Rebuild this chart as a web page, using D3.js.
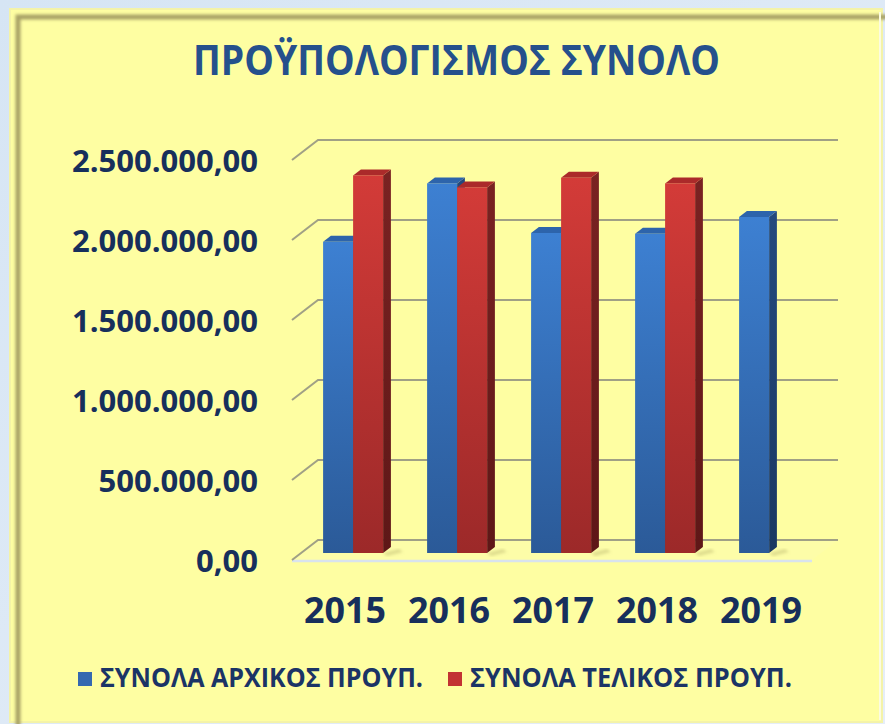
<!DOCTYPE html>
<html>
<head>
<meta charset="utf-8">
<script src="https://cdn.jsdelivr.net/npm/d3@7"></script>
<style>
  html, body { margin: 0; padding: 0; background: #dce8f5; }
  svg { display: block; }
</style>
</head>
<body>
<div id="chart"></div>
<script>
  // chart data
  const years = ["2015", "2016", "2017", "2018", "2019"];
  const seriesNames = ["ΣΥΝΟΛΑ ΑΡΧΙΚΟΣ ΠΡΟΥΠ.", "ΣΥΝΟΛΑ ΤΕΛΙΚΟΣ ΠΡΟΥΠ."];
  const initialBudget = [1945000, 2310000, 2000000, 1995000, 2100000];
  const finalBudget = [2360000, 2285000, 2345000, 2310000, null];
  const yTicks = [0, 500000, 1000000, 1500000, 2000000, 2500000];
  const title = "ΠΡΟΫΠΟΛΟΓΙΣΜΟΣ ΣΥΝΟΛΟ";

  const W = 885, H = 724;
  const font = "'Open Sans', 'Noto Sans', sans-serif";

  // back wall of the 3d plot, and the depth vector
  const wall = {left: 318, right: 838, bottom: 540, top: 140};
  const depth = {dx: -26, dy: 20};
  // bars sit between these depth fractions
  const barFront = 0.65, barBack = 0.35;

  const locale = d3.formatLocale({decimal: ",", thousands: ".", grouping: [3], currency: ["", "€"]});
  const fmt = locale.format(",.2f");

  const svg = d3.select("#chart").append("svg")
    .attr("width", W)
    .attr("height", H);

  const defs = svg.append("defs");

  const bg = defs.append("linearGradient").attr("id", "bg")
    .attr("x1", 0).attr("y1", 0).attr("x2", 1).attr("y2", 1);
  bg.append("stop").attr("offset", "0%").attr("stop-color", "#d6e5f4");
  bg.append("stop").attr("offset", "100%").attr("stop-color", "#e6eef8");

  defs.append("filter").attr("id", "blur2")
    .append("feGaussianBlur").attr("stdDeviation", 1.6);

  function vGrad(id, top, bottom) {
    const g = defs.append("linearGradient").attr("id", id)
      .attr("x1", 0).attr("y1", 0).attr("x2", 0).attr("y2", 1);
    g.append("stop").attr("offset", "0%").attr("stop-color", top);
    g.append("stop").attr("offset", "100%").attr("stop-color", bottom);
  }
  vGrad("blueFront", "#3d80d2", "#2b5a98");
  vGrad("blueSide", "#24497e", "#1b3862");
  vGrad("redFront", "#d33b38", "#9c2929");
  vGrad("redSide", "#7a2222", "#5e1717");

  // page background + yellow panel
  svg.append("rect").attr("width", W).attr("height", H).attr("fill", "url(#bg)");
  svg.append("rect")
    .attr("x", 10).attr("y", 9).attr("width", 872).attr("height", 713)
    .attr("fill", "#fefea2")
    .attr("stroke", "#f4f3a8").attr("stroke-width", 2);
  svg.append("rect")
    .attr("x", 18).attr("y", 17).attr("width", 880).attr("height", 720)
    .attr("fill", "none")
    .attr("stroke", "#a8a266").attr("stroke-width", 5)
    .attr("filter", "url(#blur2)");
  // light right edge
  svg.append("line")
    .attr("x1", 880).attr("x2", 880).attr("y1", 12).attr("y2", 720)
    .attr("stroke", "#fbfbe0").attr("stroke-width", 2);

  // scales
  const x = d3.scaleBand().domain(years).range([wall.left, wall.right]);
  const y = d3.scaleLinear().domain([0, 2500000]).range([wall.bottom, wall.top]);
  const barW = 30;

  // floor
  svg.append("path")
    .attr("d", `M${wall.left},${wall.bottom} L${wall.right},${wall.bottom} L${wall.right + depth.dx},${wall.bottom + depth.dy} L${wall.left + depth.dx},${wall.bottom + depth.dy} Z`)
    .attr("fill", "#fdfda8");
  svg.append("line")
    .attr("x1", wall.left + depth.dx).attr("x2", wall.right + depth.dx)
    .attr("y1", wall.bottom + depth.dy + 1).attr("y2", wall.bottom + depth.dy + 1)
    .attr("stroke", "#d9e3ee").attr("stroke-width", 2.5);

  // gridlines on back wall + diagonals on side wall
  const grid = svg.append("g").attr("stroke", "#8f8f80").attr("stroke-width", 2).attr("fill", "none");
  yTicks.forEach(t => {
    grid.append("path")
      .attr("d", `M${wall.left + depth.dx},${y(t) + depth.dy} L${wall.left},${y(t)} L${wall.right},${y(t)}`)
      .attr("opacity", 0.85);
  });

  // y labels
  svg.append("g")
    .selectAll("text")
    .data(yTicks)
    .join("text")
      .attr("x", 258)
      .attr("y", d => y(d) + depth.dy + 12)
      .attr("text-anchor", "end")
      .attr("font-family", font)
      .attr("font-weight", 700)
      .attr("font-size", 31)
      .attr("fill", "#172f5c")
      .text(d => fmt(d));

  // 3d bars
  const bars = [];
  years.forEach((yr, i) => {
    const cx = x(yr) + x.bandwidth() / 2;
    [initialBudget[i], finalBudget[i]].forEach((v, s) => {
      if (v == null) return;
      bars.push({year: yr, value: v, series: s, x0: cx - barW + s * barW});
    });
  });

  const fdx = depth.dx * barFront, fdy = depth.dy * barFront;
  const bdx = depth.dx * barBack, bdy = depth.dy * barBack;
  const sideDx = bdx - fdx, sideDy = bdy - fdy; // from front to back

  // floor shadows
  const gShadow = svg.append("g").attr("filter", "url(#blur2)");
  bars.filter(d => d.series === 1 || d.year === "2019").forEach(d => {
    const x1 = d.x0 + fdx + barW, yb = y(0) + fdy;
    gShadow.append("path")
      .attr("d", `M${x1},${yb} L${x1 + sideDx + 8},${yb + sideDy + 2} L${x1 + sideDx + 12},${yb + sideDy + 5} L${x1 + 4},${yb + 3} Z`)
      .attr("fill", "#b9b46a").attr("opacity", 0.45);
  });

  const gBars = svg.append("g");
  bars.forEach(d => {
    const col = d.series === 0 ? "blue" : "red";
    const x0 = d.x0 + fdx, x1 = x0 + barW;
    const yt = y(d.value) + fdy, yb = y(0) + fdy;
    const g = gBars.append("g");
    // side face
    g.append("path")
      .attr("d", `M${x1},${yt} L${x1 + sideDx},${yt + sideDy} L${x1 + sideDx},${yb + sideDy} L${x1},${yb} Z`)
      .attr("fill", `url(#${col}Side)`);
    // top face
    g.append("path")
      .attr("d", `M${x0},${yt} L${x0 + sideDx},${yt + sideDy} L${x1 + sideDx},${yt + sideDy} L${x1},${yt} Z`)
      .attr("fill", col === "blue" ? "#2d64ab" : "#ab2a2a");
    // front face
    g.append("rect")
      .attr("x", x0).attr("y", yt)
      .attr("width", barW).attr("height", yb - yt)
      .attr("fill", `url(#${col}Front)`);
  });

  // x labels
  svg.append("g")
    .selectAll("text")
    .data(years)
    .join("text")
      .attr("x", d => x(d) + x.bandwidth() / 2 + depth.dx + 1)
      .attr("y", 623)
      .attr("text-anchor", "middle")
      .attr("font-family", font)
      .attr("font-weight", 700)
      .attr("font-size", 35)
      .attr("fill", "#172f5c")
      .attr("textLength", 82)
      .attr("lengthAdjust", "spacingAndGlyphs")
      .text(d => d);

  // title
  svg.append("text")
    .attr("x", 193)
    .attr("y", 75)
    .attr("font-family", font)
    .attr("font-weight", 700)
    .attr("font-size", 42)
    .attr("fill", "#25508c")
    .attr("textLength", 527)
    .attr("lengthAdjust", "spacingAndGlyphs")
    .text(title);

  // legend
  const legend = [
    {name: seriesNames[0], fill: "#3569b0", sx: 78, tx: 100, len: 323},
    {name: seriesNames[1], fill: "#c23333", sx: 448, tx: 470, len: 322}
  ];
  const lg = svg.append("g");
  legend.forEach(l => {
    lg.append("rect")
      .attr("x", l.sx).attr("y", 672)
      .attr("width", 14).attr("height", 14)
      .attr("fill", l.fill);
    lg.append("text")
      .attr("x", l.tx).attr("y", 687)
      .attr("font-family", font)
      .attr("font-weight", 700)
      .attr("font-size", 26)
      .attr("fill", "#1b3466")
      .attr("textLength", l.len)
      .attr("lengthAdjust", "spacingAndGlyphs")
      .text(l.name);
  });
</script>
</body>
</html>
